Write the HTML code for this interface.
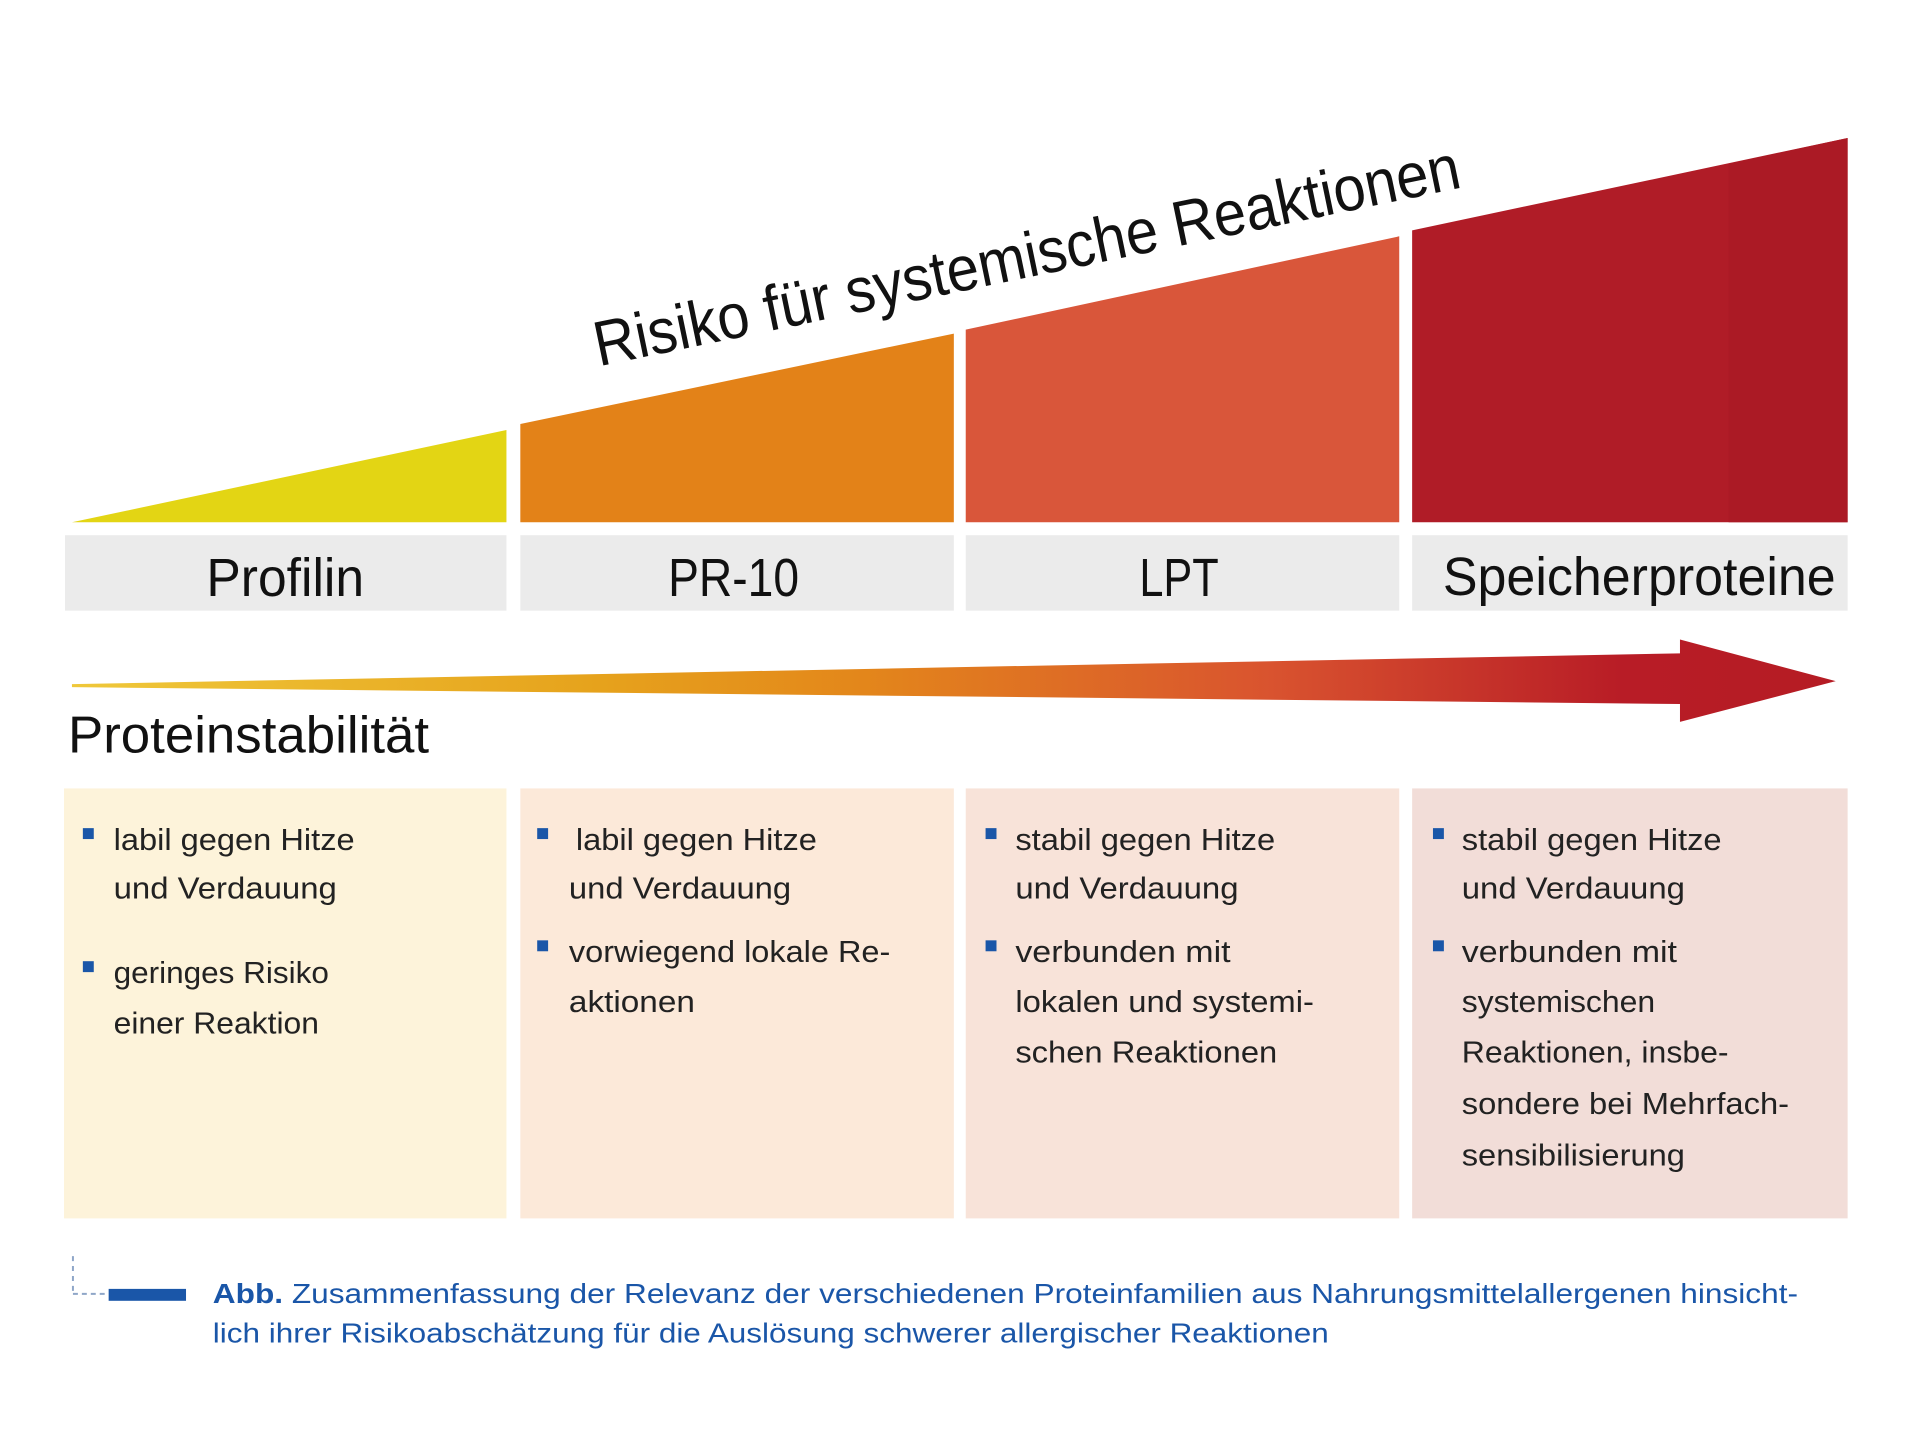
<!DOCTYPE html>
<html><head><meta charset="utf-8"><style>
html,body{margin:0;padding:0;background:#fff;}
svg{display:block;}
text{font-family:"Liberation Sans",sans-serif;}
</style></head><body>
<svg width="1920" height="1446" viewBox="0 0 1920 1446" xmlns="http://www.w3.org/2000/svg">
<defs>
<linearGradient id="ag" x1="72" y1="0" x2="1850" y2="0" gradientUnits="userSpaceOnUse">
<stop offset="0" stop-color="#efc83a"/>
<stop offset="0.3" stop-color="#e6a21c"/>
<stop offset="0.45" stop-color="#e3861b"/>
<stop offset="0.68" stop-color="#d9532f"/>
<stop offset="0.88" stop-color="#b81c26"/>
<stop offset="1" stop-color="#b51c24"/>
</linearGradient>
</defs>
<g transform="translate(65,138) scale(0.992,0.993) translate(-65,-138)">
<polygon points="72,525 510,432 510,525" fill="#e3d514"/>
<polygon points="524,426 961,335 961,525 524,525" fill="#e38218"/>
<polygon points="973,331 1410,237 1410,525 973,525" fill="#d9563a"/>
<polygon points="1423,231 1862,138 1862,525 1423,525" fill="#b01c27"/>
<polygon points="1742,164 1862,138 1862,525 1742,525" fill="#ab1a25"/>
<text x="0" y="0" font-size="64" fill="#111" textLength="890" lengthAdjust="spacingAndGlyphs" transform="translate(603,368) rotate(-11.7)">Risiko für systemische Reaktionen</text>
<rect x="65" y="538" width="445" height="76" fill="#ebebeb"/>
<rect x="524" y="538" width="437" height="76" fill="#ebebeb"/>
<rect x="973" y="538" width="437" height="76" fill="#ebebeb"/>
<rect x="1423" y="538" width="439" height="76" fill="#ebebeb"/>
<g font-size="54" fill="#111" text-anchor="middle">
<text x="287" y="599" textLength="159" lengthAdjust="spacingAndGlyphs">Profilin</text>
<text x="739" y="599" textLength="132" lengthAdjust="spacingAndGlyphs">PR-10</text>
<text x="1188" y="599" textLength="80" lengthAdjust="spacingAndGlyphs">LPT</text>
<text x="1652" y="598" textLength="396" lengthAdjust="spacingAndGlyphs">Speicherproteine</text>
</g>
<polygon points="72,688 1693,657 1693,643 1850,685 1693,726 1693,708 72,691" fill="url(#ag)"/>
<text x="68" y="757" font-size="52" fill="#111" textLength="364" lengthAdjust="spacingAndGlyphs">Proteinstabilität</text>
<rect x="64" y="793" width="446" height="433" fill="#fdf3da"/>
<rect x="524" y="793" width="437" height="433" fill="#fce9d9"/>
<rect x="973" y="793" width="437" height="433" fill="#f8e3d9"/>
<rect x="1423" y="793" width="439" height="433" fill="#f2ddd8"/>
<g fill="#1a56a8">
<rect x="83" y="833" width="11" height="11"/><rect x="83" y="967" width="11" height="11"/>
<rect x="541" y="833" width="11" height="11"/><rect x="541" y="946" width="11" height="11"/>
<rect x="993" y="833" width="11" height="11"/><rect x="993" y="946" width="11" height="11"/>
<rect x="1444" y="833" width="11" height="11"/><rect x="1444" y="946" width="11" height="11"/>
</g>
<g font-size="31" fill="#222">
<text x="114" y="855" textLength="243" lengthAdjust="spacingAndGlyphs">labil gegen Hitze</text>
<text x="114" y="904" textLength="225" lengthAdjust="spacingAndGlyphs">und Verdauung</text>
<text x="114" y="989" textLength="217" lengthAdjust="spacingAndGlyphs">geringes Risiko</text>
<text x="114" y="1040" textLength="207" lengthAdjust="spacingAndGlyphs">einer Reaktion</text>
<text x="580" y="855" textLength="243" lengthAdjust="spacingAndGlyphs">labil gegen Hitze</text>
<text x="573" y="904" textLength="224" lengthAdjust="spacingAndGlyphs">und Verdauung</text>
<text x="573" y="968" textLength="324" lengthAdjust="spacingAndGlyphs">vorwiegend lokale Re-</text>
<text x="573" y="1018" textLength="127" lengthAdjust="spacingAndGlyphs">aktionen</text>
<text x="1023" y="855" textLength="262" lengthAdjust="spacingAndGlyphs">stabil gegen Hitze</text>
<text x="1023" y="904" textLength="225" lengthAdjust="spacingAndGlyphs">und Verdauung</text>
<text x="1023" y="968" textLength="217" lengthAdjust="spacingAndGlyphs">verbunden mit</text>
<text x="1023" y="1018" textLength="301" lengthAdjust="spacingAndGlyphs">lokalen und systemi-</text>
<text x="1023" y="1069" textLength="264" lengthAdjust="spacingAndGlyphs">schen  Reaktionen</text>
<text x="1473" y="855" textLength="262" lengthAdjust="spacingAndGlyphs">stabil gegen Hitze</text>
<text x="1473" y="904" textLength="225" lengthAdjust="spacingAndGlyphs">und Verdauung</text>
<text x="1473" y="968" textLength="217" lengthAdjust="spacingAndGlyphs">verbunden mit</text>
<text x="1473" y="1018" textLength="195" lengthAdjust="spacingAndGlyphs">systemischen</text>
<text x="1473" y="1069" textLength="269" lengthAdjust="spacingAndGlyphs">Reaktionen, insbe-</text>
<text x="1473" y="1121" textLength="330" lengthAdjust="spacingAndGlyphs">sondere bei Mehrfach-</text>
<text x="1473" y="1173" textLength="225" lengthAdjust="spacingAndGlyphs">sensibilisierung</text>
</g>
<line x1="73" y1="1264" x2="73" y2="1300" stroke="#8fa6c8" stroke-width="2" stroke-dasharray="5,5"/>
<line x1="73" y1="1302" x2="107" y2="1302" stroke="#8fa6c8" stroke-width="2" stroke-dasharray="5,4"/>
<rect x="109" y="1297" width="78" height="12" fill="#1a56a8"/>
<g font-size="28" fill="#1a56a8">
<text x="214" y="1311" textLength="1598" lengthAdjust="spacingAndGlyphs"><tspan font-weight="bold">Abb.</tspan> Zusammenfassung der Relevanz der verschiedenen Proteinfamilien aus Nahrungsmittelallergenen hinsicht-</text>
<text x="214" y="1351" textLength="1125" lengthAdjust="spacingAndGlyphs">lich ihrer Risikoabschätzung für die Auslösung schwerer allergischer Reaktionen</text>
</g>
</g>
</svg>
</body></html>
